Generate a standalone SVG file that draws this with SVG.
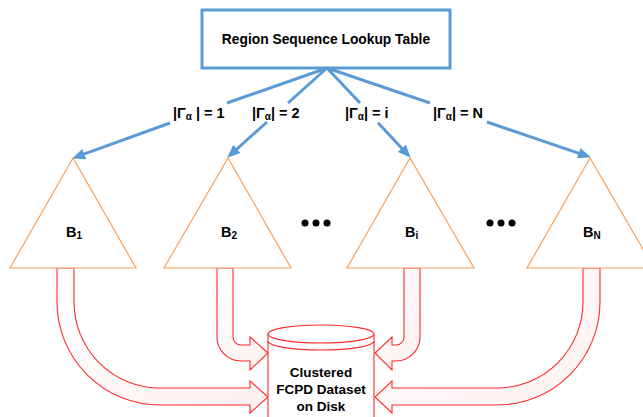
<svg xmlns="http://www.w3.org/2000/svg" width="643" height="417" viewBox="0 0 643 417">
<defs>
<style>
.t{font-family:"Liberation Sans",Arial,sans-serif;font-weight:bold;fill:#000;}
.conn{stroke:#5B9BD5;stroke-width:3;fill:none;}
.tri{fill:#fff;stroke:#F5A05F;stroke-width:1.2;}
.harrow{fill:url(#pg);stroke:#FF2A2A;stroke-width:1.1;stroke-linejoin:miter;}
.dot{fill:#000;}
</style>
<marker id="ah" markerUnits="userSpaceOnUse" markerWidth="14" markerHeight="12" refX="2" refY="5.5" orient="auto" viewBox="0 0 14 11">
<path d="M0,0 L13,5.5 L0,11 z" fill="#5B9BD5"/>
</marker>
<linearGradient id="pg" x1="0" y1="0" x2="1" y2="1">
<stop offset="0" stop-color="#ffffff"/>
<stop offset="1" stop-color="#fdf0f0"/>
</linearGradient>
</defs>
<rect width="643" height="417" fill="#fff"/>

<g id="lookup">
<rect x="202" y="10" width="248" height="58" fill="#fff" stroke="#5B9BD5" stroke-width="3"/>
<text class="t" x="326" y="44" font-size="13.8" text-anchor="middle">Region Sequence Lookup Table</text>
</g>

<g id="connectors">
<path class="conn" d="M327,68 L227,103 M170,123 L82.4,154.7" marker-end="url(#ah)"/>
<path class="conn" d="M327,68 L288,103 M267,122 L235.4,150.3" marker-end="url(#ah)"/>
<path class="conn" d="M327,68 L360,103 M378,122.7 L403.2,149.7" marker-end="url(#ah)"/>
<path class="conn" d="M327,68 L430,103 M487,122 L580.5,153.8" marker-end="url(#ah)"/>
<text class="t" x="173" y="118" font-size="14.5">|Γ<tspan font-size="10" dy="2">α</tspan><tspan dy="-2"> | = 1</tspan></text>
<text class="t" x="252" y="118" font-size="14.5">|Γ<tspan font-size="10" dy="2">α</tspan><tspan dy="-2">| = 2</tspan></text>
<text class="t" x="345" y="118" font-size="14.5">|Γ<tspan font-size="10" dy="2">α</tspan><tspan dy="-2">| = i</tspan></text>
<text class="t" x="433" y="118" font-size="14.5">|Γ<tspan font-size="10" dy="2">α</tspan><tspan dy="-2">| = N</tspan></text>
</g>

<g id="arrows-red">
<path class="harrow" d="M57,268 L57,302 A103,103 0 0 0 160,405 L250,405 L250,413 L268,397 L250,381 L250,388 L160,388 A86,86 0 0 1 74,302 L74,268 Z"/>
<path class="harrow" d="M217,268 L217,337 A24,24 0 0 0 241,361 L250,361 L250,370 L268,353 L250,337 L250,345 L241,345 A8,8 0 0 1 233,337 L233,268 Z"/>
<path class="harrow" d="M420,268 L420,337 A24,24 0 0 1 396,361 L392,361 L392,370 L375,353 L392,337 L392,345 L396,345 A8,8 0 0 0 404,337 L404,268 Z"/>
<path class="harrow" d="M600,268 L600,302 A103,103 0 0 1 497,405 L392,405 L392,413 L375,397 L392,381 L392,388 L497,388 A86,86 0 0 0 583,302 L583,268 Z"/>
</g>

<g id="B1">
<polygon class="tri" points="73,158 10,268 136,268"/>
<text class="t" x="66" y="237" font-size="14.5">B<tspan font-size="10" dy="2">1</tspan></text>
</g>
<g id="B2">
<polygon class="tri" points="228,158 164,268 291,268"/>
<text class="t" x="221" y="237" font-size="14.5">B<tspan font-size="10" dy="2">2</tspan></text>
</g>
<g id="Bi">
<polygon class="tri" points="410,158 347,268 474,268"/>
<text class="t" x="405" y="237" font-size="14.5">B<tspan font-size="10" dy="2">i</tspan></text>
</g>
<g id="BN">
<polygon class="tri" points="590,158 527,268 654,268"/>
<text class="t" x="583" y="237" font-size="14.5">B<tspan font-size="10" dy="2">N</tspan></text>
</g>

<g id="dots1">
<circle class="dot" cx="305" cy="223" r="3.5"/>
<circle class="dot" cx="316" cy="223" r="3.5"/>
<circle class="dot" cx="327" cy="223" r="3.5"/>
</g>
<g id="dots2">
<circle class="dot" cx="490" cy="223" r="3.5"/>
<circle class="dot" cx="501" cy="223" r="3.5"/>
<circle class="dot" cx="512" cy="223" r="3.5"/>
</g>

<g id="disk">
<path d="M268,334 L268,425 L374,425 L374,334" fill="#fff" stroke="#FF2A2A" stroke-width="1.1"/>
<ellipse cx="321" cy="334" rx="53" ry="9" fill="#fff" stroke="#FF2A2A" stroke-width="1.1"/>
<path d="M268,341 A53,9 0 0 0 374,341" fill="none" stroke="#FF2A2A" stroke-width="1.1"/>
<text class="t" x="321" y="377" font-size="13.5" text-anchor="middle">Clustered</text>
<text class="t" x="321" y="394" font-size="13.5" text-anchor="middle">FCPD Dataset</text>
<text class="t" x="321" y="411" font-size="13.5" text-anchor="middle">on Disk</text>
</g>
</svg>
